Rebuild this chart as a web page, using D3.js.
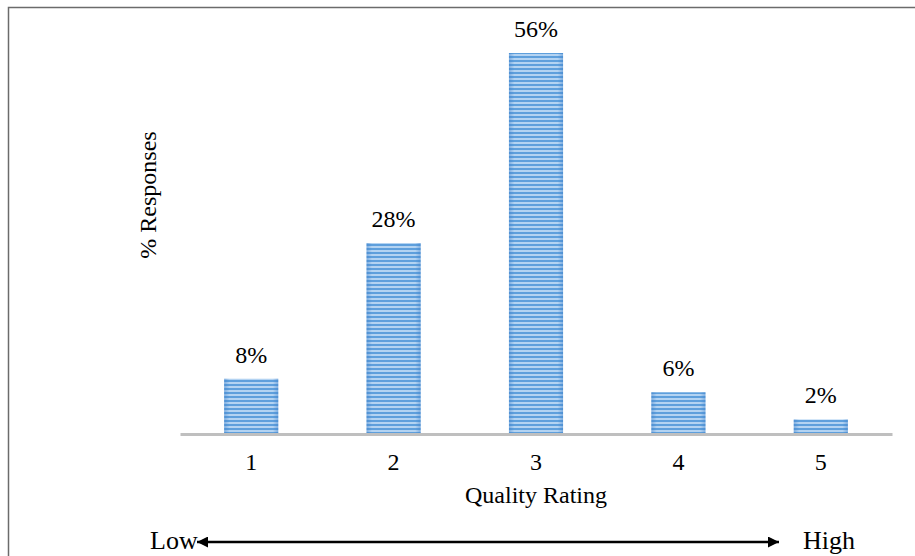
<!DOCTYPE html>
<html>
<head>
<meta charset="utf-8">
<script src="https://cdn.jsdelivr.net/npm/d3@7"></script>
<style>
  body { margin: 0; background: #fff; }
  svg { display: block; font-family: "Liberation Serif", "Times New Roman", serif; }
</style>
</head>
<body>
<svg id="chart" width="915" height="556"></svg>
<script>
const ratings = ["1", "2", "3", "4", "5"]
const responses = [8, 28, 56, 6, 2]
const xTitle = "Quality Rating"
const yTitle = "% Responses"
const lowLabel = "Low"
const highLabel = "High"

const svg = d3.select("#chart")

// outer frame (only left + top visible)
svg.append("path")
  .attr("d", "M8.5,556 V7.5 H915")
  .attr("fill", "none")
  .attr("stroke", "#6b6b6b")
  .attr("stroke-width", 1.5)

// striped fill
const defs = svg.append("defs")
const pat = defs.append("pattern")
  .attr("id", "stripes")
  .attr("patternUnits", "userSpaceOnUse")
  .attr("width", 8).attr("height", 4)
pat.append("rect").attr("width", 8).attr("height", 4).attr("fill", "#b3d3f2")
pat.append("rect").attr("y", 0).attr("width", 8).attr("height", 2).attr("fill", "#5e9fdc")

const edge = defs.append("linearGradient").attr("id", "edge")
edge.append("stop").attr("offset", "0%").attr("stop-color", "#3d7fc9").attr("stop-opacity", 0.45)
edge.append("stop").attr("offset", "10%").attr("stop-color", "#3d7fc9").attr("stop-opacity", 0)
edge.append("stop").attr("offset", "90%").attr("stop-color", "#3d7fc9").attr("stop-opacity", 0)
edge.append("stop").attr("offset", "100%").attr("stop-color", "#3d7fc9").attr("stop-opacity", 0.45)

const x = d3.scaleBand()
  .domain(ratings)
  .range([180, 892])
  .paddingInner(0.62)
  .paddingOuter(0.31)

const y = d3.scaleLinear()
  .domain([0, 56])
  .range([433, 53])

const data = ratings.map((r, i) => ({ r, v: responses[i] }))

// bars
const bars = svg.append("g")
bars.selectAll("rect.bar")
  .data(data)
  .enter()
  .append("rect")
  .attr("class", "bar")
  .attr("x", d => x(d.r))
  .attr("y", d => y(d.v))
  .attr("width", x.bandwidth())
  .attr("height", d => y(0) - y(d.v))
  .attr("fill", "url(#stripes)")
bars.selectAll("rect.edge")
  .data(data)
  .enter()
  .append("rect")
  .attr("class", "edge")
  .attr("x", d => x(d.r))
  .attr("y", d => y(d.v))
  .attr("width", x.bandwidth())
  .attr("height", d => y(0) - y(d.v))
  .attr("fill", "url(#edge)")

// value labels
svg.append("g").selectAll("text")
  .data(data)
  .enter()
  .append("text")
  .attr("x", d => x(d.r) + x.bandwidth() / 2)
  .attr("y", d => y(d.v) - 16)
  .attr("text-anchor", "middle")
  .style("font-size", "24px")
  .text(d => d.v + "%")

// x axis
const xAxis = svg.append("g")
  .attr("transform", `translate(0, ${y(0) + 1})`)
  .call(d3.axisBottom(x).tickSize(0).tickPadding(19))
xAxis.select(".domain").attr("stroke", "#bfbfbf").attr("stroke-width", 3)
xAxis.selectAll("text")
  .style("font-family", "Liberation Serif, serif")
  .style("font-size", "24px")
  .attr("fill", "#000")

// axis titles
svg.append("text")
  .attr("x", (x.range()[0] + x.range()[1]) / 2)
  .attr("y", 503)
  .attr("text-anchor", "middle")
  .style("font-size", "24px")
  .text(xTitle)

svg.append("text")
  .attr("transform", "translate(156, 195) rotate(-90)")
  .attr("text-anchor", "middle")
  .style("font-size", "24px")
  .text(yTitle)

// low / high arrow
defs.append("marker")
  .attr("id", "arrowhead")
  .attr("viewBox", "0 0 10 10")
  .attr("refX", 10).attr("refY", 5)
  .attr("markerWidth", 14).attr("markerHeight", 11)
  .attr("markerUnits", "userSpaceOnUse")
  .attr("orient", "auto-start-reverse")
  .append("path").attr("d", "M0,0 L10,5 L0,10 Z").attr("fill", "#000")

svg.append("line")
  .attr("x1", 197).attr("y1", 542)
  .attr("x2", 779).attr("y2", 542)
  .attr("stroke", "#000").attr("stroke-width", 2.5)
  .attr("marker-start", "url(#arrowhead)")
  .attr("marker-end", "url(#arrowhead)")

svg.append("text")
  .attr("x", 150).attr("y", 549)
  .style("font-size", "26px")
  .text(lowLabel)

svg.append("text")
  .attr("x", 803).attr("y", 549)
  .style("font-size", "26px")
  .text(highLabel)
</script>
</body>
</html>
